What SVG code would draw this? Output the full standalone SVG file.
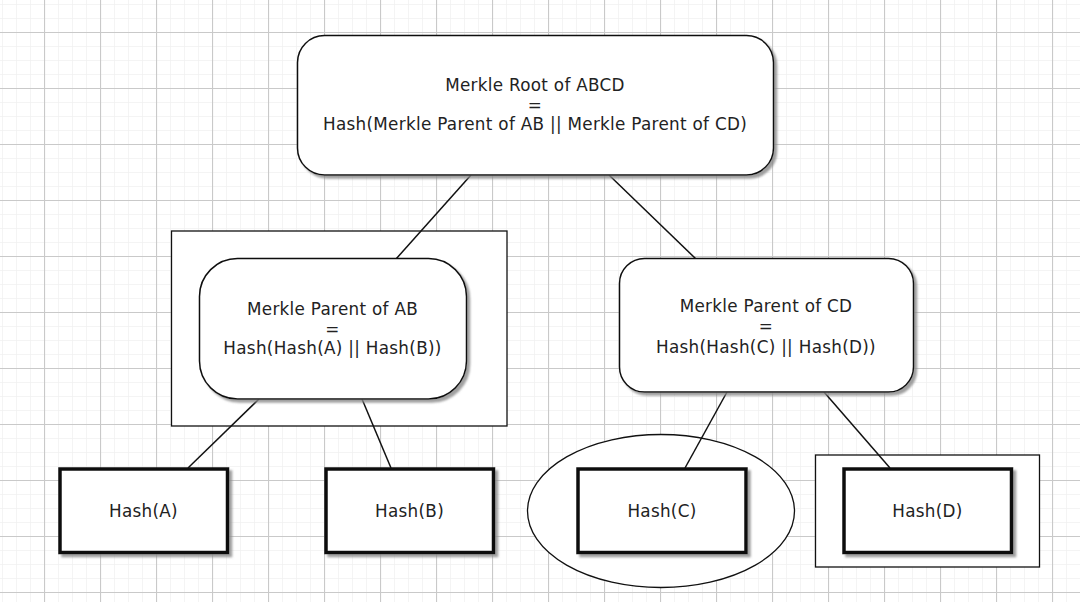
<svg xmlns="http://www.w3.org/2000/svg" width="1080" height="602" viewBox="0 0 1080 602">
<style>
text{font-family:"DejaVu Sans","Verdana",sans-serif;font-size:16.8px;letter-spacing:0.3px;fill:#222;text-anchor:middle}
.box{fill:#fff;stroke:#111;stroke-width:1.5}
.leaf{fill:#fff;stroke:#111;stroke-width:3.5}
.cont{fill:#fff;stroke:#111;stroke-width:1.3}
.conn line{stroke:#111;stroke-width:1.5}
.sh{filter:url(#shadow)}
</style>
<defs>
<pattern id="minor" width="14" height="14" x="2" y="4" patternUnits="userSpaceOnUse">
<path d="M0 0H14M0 0V14" fill="none" stroke="#f1f1f1" stroke-width="1.5"/>
</pattern>
<pattern id="major" width="56" height="56" x="44" y="32" patternUnits="userSpaceOnUse">
<path d="M0 0.5H56M0.5 0V56" fill="none" stroke="#c9c9c9" stroke-width="1.2"/>
</pattern>
<filter id="shadow" x="-10%" y="-10%" width="125%" height="130%">
<feDropShadow dx="3" dy="3" stdDeviation="1" flood-color="#888" flood-opacity="0.8"/>
</filter>
</defs>
<rect width="1080" height="602" fill="#fff"/>
<rect width="1080" height="602" fill="url(#minor)"/>
<rect width="1080" height="602" fill="url(#major)"/>

<g id="container-ab"><rect class="cont" x="171.5" y="231" width="335.5" height="195"/></g>
<g id="container-c"><ellipse class="cont" cx="661" cy="511" rx="133.5" ry="76.5"/></g>
<g id="container-d"><rect class="cont" x="815.5" y="455" width="224" height="112"/></g>

<g id="connectors" class="conn">
<line x1="471" y1="175" x2="396" y2="259"/>
<line x1="609" y1="175" x2="696" y2="259"/>
<line x1="259" y1="399" x2="188" y2="468"/>
<line x1="362" y1="399" x2="391" y2="468"/>
<line x1="727" y1="392" x2="685" y2="468"/>
<line x1="824" y1="392" x2="890" y2="468"/>
</g>

<g id="root">
<rect class="box sh" x="297.5" y="35.5" width="476" height="139.5" rx="27"/>
<text x="535" y="91">Merkle Root of ABCD</text>
<text x="535" y="110.5">=</text>
<text x="535" y="130">Hash(Merkle Parent of AB || Merkle Parent of CD)</text>
</g>

<g id="parent-ab">
<rect class="box sh" x="199.5" y="258.5" width="267" height="140.5" rx="38"/>
<text x="332.5" y="315">Merkle Parent of AB</text>
<text x="332.5" y="334.5">=</text>
<text x="332.5" y="354">Hash(Hash(A) || Hash(B))</text>
</g>

<g id="parent-cd">
<rect class="box sh" x="619.5" y="258.5" width="294" height="133.5" rx="25"/>
<text x="766" y="312">Merkle Parent of CD</text>
<text x="766" y="332">=</text>
<text x="766" y="352.5">Hash(Hash(C) || Hash(D))</text>
</g>

<g id="hash-a">
<rect class="leaf sh" x="60" y="469" width="167.5" height="83.5"/>
<text x="143.5" y="517">Hash(A)</text>
</g>
<g id="hash-b">
<rect class="leaf sh" x="326" y="469" width="167.5" height="83.5"/>
<text x="409.5" y="517">Hash(B)</text>
</g>
<g id="hash-c">
<rect class="leaf sh" x="578" y="469" width="168" height="83.5"/>
<text x="662" y="517">Hash(C)</text>
</g>
<g id="hash-d">
<rect class="leaf sh" x="844" y="469" width="167.5" height="83.5"/>
<text x="927.5" y="517">Hash(D)</text>
</g>
</svg>
